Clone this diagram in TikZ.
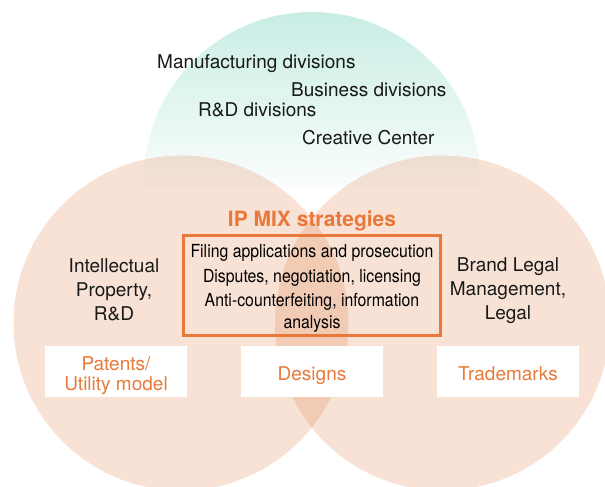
\documentclass[tikz,border=0pt]{standalone}
\usepackage{fontspec}
\setmainfont{TeX Gyre Heros}
\newfontfamily\narrowfont{TeX Gyre Heros}[FakeStretch=0.88]
\usepackage{xcolor}
\usepackage{tikz}

\definecolor{ipOrange}{RGB}{232,121,58}
\definecolor{circPeach}{RGB}{220,110,50}
\definecolor{mint}{RGB}{200,237,228}

\begin{document}
\begin{tikzpicture}[x=1pt,y=-1pt,
        every node/.style={inner sep=0pt},
        txt/.style={font=\fontsize{19}{24}\selectfont, align=center, text=black!90},
        kind/.style={fill=white, minimum width=142pt, minimum height=51pt},
        kindtxt/.style={text=ipOrange, font=\fontsize{19}{20}\selectfont, align=center},
        disc/.style={fill=circPeach, fill opacity=0.2}]
        \useasboundingbox (0,0) rectangle (605,487);
        \clip (0,0) rectangle (605,487);

        % Upper circle, fading out towards the middle
        \begin{scope}
            \clip (312,180) circle (168);
            \shade[top color=mint, bottom color=mint!8] (140,12) rectangle (485,188);
        \end{scope}

        % Two lower circles
        \fill[disc] (181,323) circle (167.5);
        \fill[disc] (442.5,323) circle (167.5);

        % Divisions in the upper circle
        \node[txt, anchor=base west] (manuf) at (157,69) {Manufacturing divisions};
        \node[txt, anchor=base west] (business) at (291,96) {Business divisions};
        \node[txt, anchor=base west] (rnd) at (198,116) {R\&D divisions};
        \node[txt, anchor=base west] (creative) at (302,144) {Creative Center};

        % Departments in the lower circles
        \node[txt] (ipdept) at (114,290) {Intellectual\\Property,\\R\&D};
        \node[txt] (legal) at (508,291) {Brand Legal\\Management,\\Legal};

        % IP mix box
        \node[text=ipOrange, font=\bfseries\fontsize{21}{24}\selectfont] (mix) at (312,221) {IP MIX strategies};
        \node[draw=ipOrange, line width=2.7pt, minimum width=257pt, minimum height=100pt] (tasks) at (312,285.5) {};
        \node[font=\narrowfont\fontsize{18}{22}\selectfont, align=center] (tasklist) at ([yshift=-3pt]tasks.center)
            {Filing applications and prosecution\\[3pt]
             Disputes, negotiation, licensing\\[2pt]
             Anti-counterfeiting, information\\
             analysis};

        % Kinds of rights
        \node[kind] (patents) at (116,371.5) {};
        \node[kind] (designs) at (312,371.5) {};
        \node[kind] (marks) at (508,371.5) {};
        \node[kindtxt] (patentsT) at (116,376) {Patents/\\Utility model};
        \node[kindtxt, anchor=base] (designsT) at (312,380) {Designs};
        \node[kindtxt, anchor=base] (marksT) at (508,380) {Trademarks};
\end{tikzpicture}
\end{document}
